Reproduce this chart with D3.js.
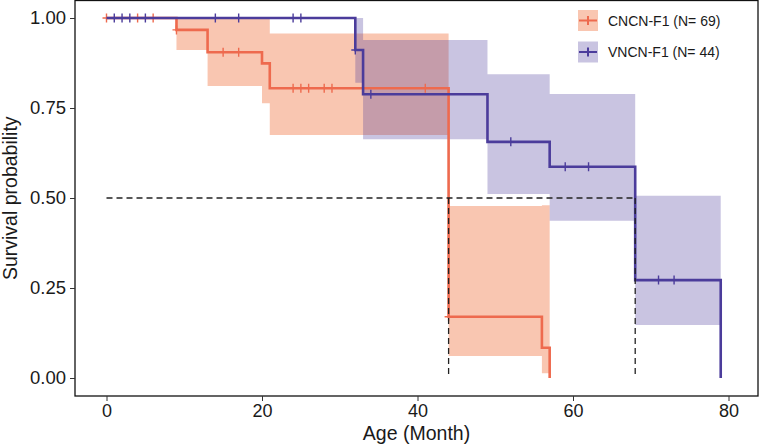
<!DOCTYPE html>
<html>
<head>
<meta charset="utf-8">
<script src="https://cdn.jsdelivr.net/npm/d3@7"></script>
<style>
html,body{margin:0;padding:0;background:#fff;}
svg{display:block;font-family:"Liberation Sans",Arial,Helvetica,sans-serif;}
</style>
</head>
<body>
<svg id="chart" width="760" height="445"></svg>
<script>
// ---- data ----
const seriesNames = ["CNCN-F1 (N= 69)", "VNCN-F1 (N= 44)"];
const xTicks = [0, 20, 40, 60, 80];
const yTicks = [0, 0.25, 0.5, 0.75, 1];

const cncnTime  = [0, 9, 13, 20, 21, 44, 56, 57];
const cncnSurv  = [1, 0.967, 0.905, 0.874, 0.805, 0.170, 0.084, 0];
const cncnUpper = [1, 1, 1, 1, 0.957, 0.478, 0.480];
const cncnLower = [1, 0.911, 0.811, 0.763, 0.675, 0.061, 0.013];
const cncnCensorTime = [0, 4, 6, 9, 15, 17, 24, 25, 26, 28, 29, 33, 41, 44];

const vncnTime  = [0, 32, 33, 49, 57, 68, 79];
const vncnSurv  = [1, 0.911, 0.788, 0.656, 0.587, 0.272, 0];
const vncnUpper = [1, 1, 0.939, 0.844, 0.789, 0.506];
const vncnLower = [1, 0.820, 0.663, 0.511, 0.437, 0.147];
const vncnCensorTime = [1, 2, 3, 5, 14, 17, 24, 25, 32, 34, 52, 59, 62, 71, 73];

const medianSurv = 0.5;
const medianTimes = [44, 68];

// ---- styles ----
const lineColors = ["#EE6A4E", "#4B3C9B"];
const bandColors = ["#F0703C", "#4B3C9B"];
const bandOpacity = [0.4, 0.3];

const svg = d3.select("#chart");
const panel = {left: 75, right: 758, top: 0.5, bottom: 396};

const x = d3.scaleLinear().domain([0, 80]).range([106.5, 728.5]);
const y = d3.scaleLinear().domain([0, 1]).range([378, 18]);

function stepAt(times, vals, t) {
  let idx = 0;
  for (let i = 0; i < times.length; i++) if (times[i] <= t) idx = i;
  return vals[idx];
}

const series = [
  {time: cncnTime, surv: cncnSurv, up: cncnUpper, lo: cncnLower, cens: cncnCensorTime},
  {time: vncnTime, surv: vncnSurv, up: vncnUpper, lo: vncnLower, cens: vncnCensorTime}
];

const gBands = svg.append("g");
const gLines = svg.append("g");

const area = d3.area().curve(d3.curveStepAfter)
  .x(d => x(d.t)).y0(d => y(d.lo)).y1(d => y(d.up));
const line = d3.line().curve(d3.curveStepAfter)
  .x(d => x(d.t)).y(d => y(d.s));

series.forEach((s, k) => {
  const n = s.up.length;
  const bandData = s.time.slice(0, n + 1).map((t, i) => ({
    t: t, up: s.up[Math.min(i, n - 1)], lo: s.lo[Math.min(i, n - 1)]
  }));
  gBands.append("path").datum(bandData)
    .attr("d", area)
    .attr("fill", bandColors[k]).attr("fill-opacity", bandOpacity[k]);
});

// median dashed lines
const gMed = svg.append("g").attr("stroke", "#222").attr("stroke-width", 1.3)
  .attr("stroke-dasharray", "6,4").attr("fill", "none");
gMed.append("line")
  .attr("x1", x(0)).attr("x2", x(d3.max(medianTimes)))
  .attr("y1", y(medianSurv)).attr("y2", y(medianSurv));
medianTimes.forEach(t => {
  gMed.append("line").attr("x1", x(t)).attr("x2", x(t))
    .attr("y1", y(medianSurv)).attr("y2", y(0));
});

series.forEach((s, k) => {
  const pts = s.time.map((t, i) => ({t: t, s: s.surv[i]}));
  gLines.append("path").datum(pts).attr("d", line)
    .attr("fill", "none").attr("stroke", lineColors[k]).attr("stroke-width", 2.6);
  s.cens.forEach(t => {
    const cx = x(t), cy = y(stepAt(s.time, s.surv, t));
    gLines.append("path")
      .attr("d", `M${cx - 4},${cy}H${cx + 4}M${cx},${cy - 4.5}V${cy + 4.5}`)
      .attr("stroke", lineColors[k]).attr("stroke-width", 1.4).attr("fill", "none");
  });
});

// panel border
svg.append("rect")
  .attr("x", panel.left).attr("y", panel.top)
  .attr("width", panel.right - panel.left).attr("height", panel.bottom - panel.top)
  .attr("fill", "none").attr("stroke", "#111").attr("stroke-width", 1.3);

// axes
const xAxis = svg.append("g").attr("transform", `translate(0,${panel.bottom})`)
  .call(d3.axisBottom(x).tickValues(xTicks).tickSize(5).tickPadding(3).tickFormat(d3.format("d")));
xAxis.select(".domain").remove();
xAxis.selectAll("text").attr("font-size", 18).attr("fill", "#1a1a1a")
  .style("font-family", "Liberation Sans, Arial, sans-serif");
xAxis.selectAll("line").attr("stroke", "#333");

const yAxis = svg.append("g").attr("transform", `translate(${panel.left},0)`)
  .call(d3.axisLeft(y).tickValues(yTicks).tickSize(5).tickPadding(4).tickFormat(d3.format(".2f")));
yAxis.select(".domain").remove();
yAxis.selectAll("text").attr("font-size", 18.5).attr("fill", "#1a1a1a")
  .style("font-family", "Liberation Sans, Arial, sans-serif");
yAxis.selectAll("line").attr("stroke", "#333");

svg.append("text").attr("x", (panel.left + panel.right) / 2).attr("y", 439.5)
  .attr("text-anchor", "middle").attr("font-size", 19.5).attr("fill", "#1a1a1a")
  .text("Age (Month)");
svg.append("text")
  .attr("transform", `translate(17,${(panel.top + panel.bottom) / 2}) rotate(-90)`)
  .attr("text-anchor", "middle").attr("font-size", 19.5).attr("fill", "#1a1a1a")
  .text("Survival probability");

// legend
const lg = svg.append("g");
seriesNames.forEach((name, k) => {
  const top = 10 + k * 31.5;
  const row = lg.append("g");
  row.append("rect").attr("x", 578).attr("y", top).attr("width", 20).attr("height", 21)
    .attr("fill", bandColors[k]).attr("fill-opacity", bandOpacity[k]);
  row.append("path")
    .attr("d", `M579,${top + 10.5}H597M588,${top + 6}V${top + 15}`)
    .attr("stroke", lineColors[k]).attr("stroke-width", 2).attr("fill", "none");
  row.append("text").attr("x", 608).attr("y", top + 10.5).attr("dy", "0.36em")
    .attr("font-size", 14).attr("fill", "#1a1a1a").text(name);
});
</script>
</body>
</html>
